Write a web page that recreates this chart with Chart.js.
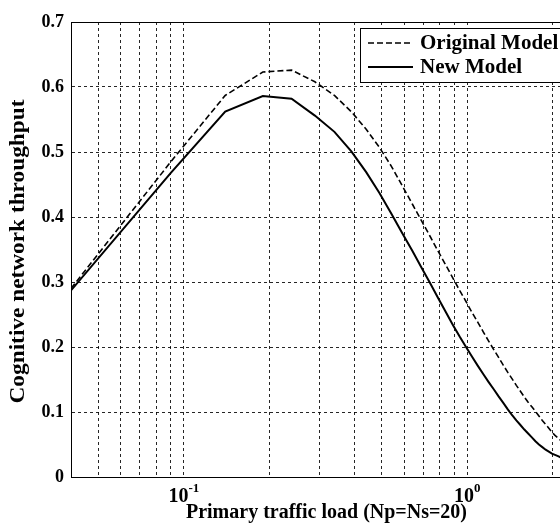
<!DOCTYPE html>
<html>
<head>
<meta charset="utf-8">
<script src="https://cdn.jsdelivr.net/npm/chart.js@4.4.0/dist/chart.umd.min.js"></script>
<style>
  html, body { margin: 0; padding: 0; background: #fff; overflow: hidden; }
  #wrap { width: 560px; height: 529px; overflow: hidden; }
</style>
</head>
<body>
<div id="wrap">
  <canvas id="chart" width="620" height="529"></canvas>
</div>
<script>
// Primary traffic load (x), sampled every 0.05 starting at 0.04
const loadValues = [
    0.04, 0.09, 0.14, 0.19, 0.24, 0.29, 0.34, 0.39, 0.44, 0.49,
    0.54, 0.59, 0.64, 0.69, 0.74, 0.79, 0.84, 0.89, 0.94, 0.99,
    1.04, 1.09, 1.14, 1.19, 1.24, 1.29, 1.34, 1.39, 1.44, 1.49,
    1.54, 1.59, 1.64, 1.69, 1.74, 1.79, 1.84, 1.89, 1.94, 1.99,
    2.04, 2.09, 2.14, 2.19, 2.24, 2.29, 2.34, 2.39, 2.44, 2.49, 2.54
];

// Cognitive network throughput
const originalModel = [
    0.290, 0.485, 0.587, 0.623, 0.626, 0.608, 0.587, 0.562, 0.535, 0.507,
    0.478, 0.448, 0.420, 0.394, 0.370, 0.347, 0.326, 0.306, 0.287, 0.270,
    0.253, 0.238, 0.223, 0.209, 0.196, 0.184, 0.172, 0.161, 0.151, 0.141,
    0.132, 0.123, 0.115, 0.108, 0.101, 0.094, 0.087, 0.081, 0.075, 0.069,
    0.064, 0.060, 0.056, 0.052, 0.048, 0.045, 0.042, 0.039, 0.036, 0.034, 0.032
];
const newModel = [
    0.287, 0.468, 0.562, 0.586, 0.582, 0.556, 0.531, 0.501, 0.469, 0.437,
    0.405, 0.375, 0.348, 0.322, 0.298, 0.275, 0.254, 0.234, 0.216, 0.200,
    0.185, 0.171, 0.158, 0.146, 0.135, 0.124, 0.114, 0.104, 0.095, 0.087,
    0.080, 0.073, 0.067, 0.061, 0.055, 0.050, 0.046, 0.042, 0.039, 0.036,
    0.034, 0.032, 0.030, 0.028, 0.027, 0.025, 0.024, 0.023, 0.022, 0.021, 0.020
];

const seriesNames = ['Original Model', 'New Model'];
const xGridValues = [0.05, 0.06, 0.07, 0.08, 0.09, 0.1, 0.2, 0.3, 0.4, 0.5, 0.6, 0.7, 0.8, 0.9, 1, 2];
const xLabelValues = [0.1, 1];
const xLabelExponents = ['-1', '0'];
const yTickLabels = ['0', '0.1', '0.2', '0.3', '0.4', '0.5', '0.6', '0.7'];
const yTitle = 'Cognitive network throughput';

const serif = "'Liberation Serif', 'Times New Roman', serif";
const DASH = [6, 3];

// draws the 10^n labels, the y title, the top frame line and the boxed legend
const matlabBits = {
    id: 'matlabBits',
    afterDraw(chart) {
        const ctx = chart.ctx;
        const area = chart.chartArea;
        const xs = chart.scales.x;
        ctx.save();

        // top frame
        ctx.strokeStyle = '#000';
        ctx.lineWidth = 1;
        ctx.setLineDash([]);
        ctx.beginPath();
        ctx.moveTo(area.left, area.top + 0.5);
        ctx.lineTo(area.right, area.top + 0.5);
        ctx.moveTo(area.right - 0.5, area.top);
        ctx.lineTo(area.right - 0.5, area.bottom);
        ctx.stroke();

        // x tick labels with superscript exponent
        ctx.fillStyle = '#000';
        ctx.textBaseline = 'alphabetic';
        ctx.textAlign = 'left';
        xLabelValues.forEach((v, i) => {
            const px = xs.getPixelForValue(v);
            ctx.font = 'bold 20px ' + serif;
            const wBase = ctx.measureText('10').width;
            ctx.font = 'bold 13px ' + serif;
            const wExp = ctx.measureText(xLabelExponents[i]).width;
            const x0 = px - (wBase + wExp) / 2;
            ctx.font = 'bold 20px ' + serif;
            ctx.fillText('10', x0, area.bottom + 25);
            ctx.font = 'bold 13px ' + serif;
            ctx.fillText(xLabelExponents[i], x0 + wBase, area.bottom + 15);
        });

        // y title, a little stretched along its length like the original
        ctx.save();
        ctx.translate(19, (area.top + area.bottom) / 2 + 2);
        ctx.rotate(-Math.PI / 2);
        ctx.scale(1.11, 1);
        ctx.font = 'bold 21px ' + serif;
        ctx.textAlign = 'center';
        ctx.textBaseline = 'middle';
        ctx.fillText(yTitle, 0, 0);
        ctx.restore();

        // legend box
        const lx = 360, ly = area.top + 6, lr = area.right - 6, lb = area.top + 60;
        ctx.fillStyle = '#fff';
        ctx.fillRect(lx, ly, lr - lx, lb - ly);
        ctx.strokeStyle = '#000';
        ctx.lineWidth = 1;
        ctx.strokeRect(lx + 0.5, ly + 0.5, lr - lx, lb - ly);

        const rows = [area.top + 21, area.top + 45];
        chart.data.datasets.forEach((ds, i) => {
            ctx.strokeStyle = '#000';
            ctx.lineWidth = ds.borderWidth;
            ctx.setLineDash(ds.borderDash || []);
            ctx.beginPath();
            ctx.moveTo(lx + 8, rows[i]);
            ctx.lineTo(lx + 53, rows[i]);
            ctx.stroke();
            ctx.setLineDash([]);
            ctx.fillStyle = '#000';
            ctx.font = 'bold 21px ' + serif;
            ctx.textAlign = 'left';
            ctx.textBaseline = 'middle';
            ctx.fillText(ds.label, lx + 60, rows[i] + 1);
        });
        ctx.restore();
    }
};

const ctx = document.getElementById('chart').getContext('2d');
new Chart(ctx, {
    type: 'line',
    data: {
        datasets: [
            {
                label: seriesNames[0],
                data: loadValues.map((x, i) => ({ x: x, y: originalModel[i] })),
                borderColor: '#000',
                borderWidth: 1.6,
                borderDash: DASH,
                pointRadius: 0,
                fill: false,
                tension: 0
            },
            {
                label: seriesNames[1],
                data: loadValues.map((x, i) => ({ x: x, y: newModel[i] })),
                borderColor: '#000',
                borderWidth: 2,
                pointRadius: 0,
                fill: false,
                tension: 0
            }
        ]
    },
    options: {
        responsive: false,
        animation: false,
        devicePixelRatio: 1,
        layout: { padding: { top: 22, right: 38, left: 0, bottom: 0 } },
        plugins: {
            legend: { display: false },
            tooltip: { enabled: false }
        },
        scales: {
            x: {
                type: 'logarithmic',
                min: 0.04,
                max: 2.54,
                afterBuildTicks: scale => {
                    scale.ticks = xGridValues.map(v => ({ value: v }));
                },
                afterFit: scale => { scale.height = 52; },
                ticks: { display: false },
                grid: { color: 'rgba(0,0,0,0.85)', lineWidth: 1, drawTicks: false },
                border: { display: true, color: '#000', width: 1, dash: [3, 3] },
                title: {
                    display: true,
                    text: 'Primary traffic load (Np=Ns=20)',
                    color: '#000',
                    font: { family: serif, size: 20, weight: 'bold' },
                    padding: { top: 0, bottom: 4 }
                }
            },
            y: {
                min: 0,
                max: 0.7,
                afterFit: scale => { scale.width = 71; },
                ticks: {
                    stepSize: 0.1,
                    color: '#000',
                    padding: 7,
                    font: { family: serif, size: 18, weight: 'bold' },
                    callback: (value, index) => yTickLabels[index]
                },
                grid: { color: 'rgba(0,0,0,0.85)', lineWidth: 1, drawTicks: false },
                border: { display: true, color: '#000', width: 1, dash: [3, 3] },
                title: { display: false }
            }
        }
    },
    plugins: [matlabBits]
});
</script>
</body>
</html>
